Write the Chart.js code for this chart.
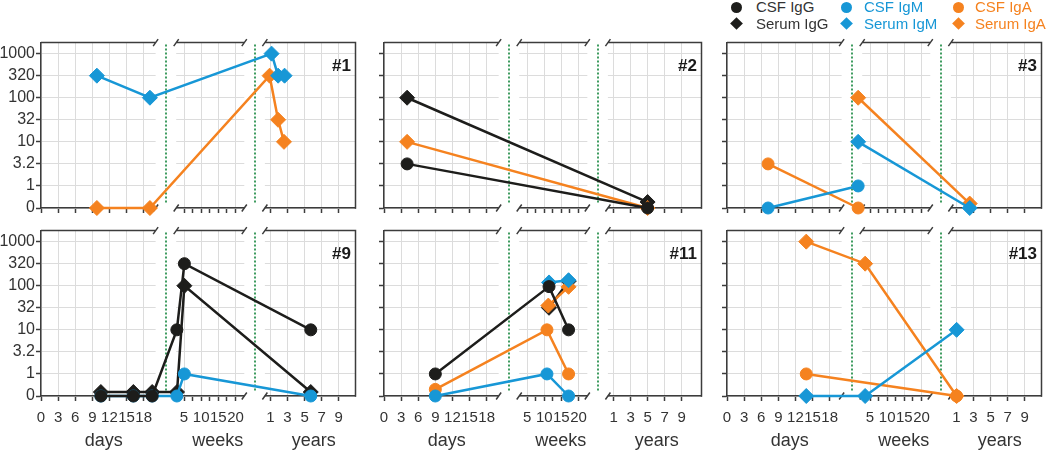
<!DOCTYPE html>
<html>
<head>
<meta charset="utf-8">
<script src="https://cdn.jsdelivr.net/npm/chart.js@4.4.1/dist/chart.umd.min.js"></script>
<style>
  html, body { margin: 0; background: #fff; overflow: hidden; }
  #wrap { position: relative; width: 1050px; height: 451px; font-family: 'Liberation Sans', Arial, Helvetica, sans-serif; }
  #wrap canvas { position: absolute; }
  .lg-text { position: absolute; font-size: 15px; line-height: 18px; white-space: nowrap; }
  .lg-mark { position: absolute; }
</style>
</head>
<body>
<div id="wrap"></div>
<script>
// Data: every point is [part, time, level]
// part: 'd' days, 'w' weeks, 'y' years / level: step on the titre ladder below
const yLabels = ['0', '1', '3.2', '10', '32', '100', '320', '1000']
const dayTicks = [0, 3, 6, 9, 12, 15, 18]
const weekTicks = [5, 7.5, 10, 12.5, 15, 17.5, 20]
const weekLabels = ['5', '', '10', '', '15', '', '20']
const yearTicks = [1, 3, 5, 7, 9]
const partTitles = ['days', 'weeks', 'years']

// #1
const p1SerumIgA = [['d', 9.8, 0], ['d', 19.1, 0], ['y', 0.89, 6], ['y', 1.89, 4], ['y', 2.58, 3]]
const p1SerumIgM = [['d', 9.8, 6], ['d', 19.1, 5], ['y', 1.12, 7], ['y', 1.89, 6], ['y', 2.65, 6]]
// #2
const p2CsfIgG = [['d', 4.05, 2], ['y', 5, 0]]
const p2SerumIgG = [['d', 4.05, 5], ['y', 5, 0.27]]
const p2SerumIgA = [['d', 4.05, 3], ['y', 5, 0]]
// #3
const p3CsfIgA = [['d', 7.2, 2], ['d', 23, 0]]
const p3CsfIgM = [['d', 7.2, 0], ['d', 23, 1]]
const p3SerumIgA = [['d', 23, 5], ['y', 2.55, 0.2]]
const p3SerumIgM = [['d', 23, 3], ['y', 2.55, 0]]
// #9
const p9CsfIgG = [['d', 10.5, 0], ['d', 16.2, 0], ['d', 19.5, 0], ['w', 2.9, 3], ['w', 5.1, 6], ['y', 5.73, 3]]
const p9SerumIgG = [['d', 10.5, 0.18], ['d', 16.2, 0.18], ['d', 19.5, 0.18], ['w', 2.95, 0.18], ['w', 5.1, 5], ['y', 5.73, 0.18]]
const p9CsfIgM = [['d', 10.5, 0], ['d', 16.2, 0], ['d', 19.5, 0], ['w', 2.9, 0], ['w', 5.1, 1], ['y', 5.73, 0]]
// #11
const p11CsfIgG = [['d', 9, 1], ['w', 11.4, 4.96], ['w', 17.1, 3]]
const p11CsfIgA = [['d', 9, 0.3], ['w', 10.8, 3], ['w', 17.1, 1]]
const p11CsfIgM = [['d', 9, 0], ['w', 10.8, 1], ['w', 17.1, 0]]
const p11SerumIgG = [['w', 11.4, 4], ['w', 17.1, 5.2]]
const p11SerumIgM = [['w', 11.4, 5.15], ['w', 17.1, 5.25]]
const p11SerumIgA = [['w', 11.2, 4.1], ['w', 17.1, 4.95]]
// #13
const p13CsfIgA = [['d', 13.9, 1], ['y', 1.01, 0]]
const p13SerumIgA = [['d', 13.9, 7], ['w', 3.57, 6], ['y', 1.01, 0]]
const p13SerumIgM = [['d', 13.9, 0], ['w', 3.57, 0], ['y', 1.01, 3]]

const panelNames = ['#1', '#2', '#3', '#9', '#11', '#13']
const panelSeries = [
  { serumIgA: p1SerumIgA, serumIgM: p1SerumIgM },
  { csfIgG: p2CsfIgG, serumIgG: p2SerumIgG, serumIgA: p2SerumIgA },
  { csfIgA: p3CsfIgA, csfIgM: p3CsfIgM, serumIgA: p3SerumIgA, serumIgM: p3SerumIgM },
  { csfIgG: p9CsfIgG, serumIgG: p9SerumIgG, csfIgM: p9CsfIgM },
  { csfIgG: p11CsfIgG, csfIgA: p11CsfIgA, csfIgM: p11CsfIgM, serumIgG: p11SerumIgG, serumIgM: p11SerumIgM, serumIgA: p11SerumIgA },
  { csfIgA: p13CsfIgA, serumIgA: p13SerumIgA, serumIgM: p13SerumIgM },
]

/*--------------------------------------------
  Styles
---------------------------------------------*/
const BLACK = '#1d1d1b'
const BLUE = '#1797d6'
const ORANGE = '#f5821f'
const TEXT = '#333333'
const FRAME = '#3c3c3c'
const GRID = '#dcdcdc'
const GREEN = '#3f9c60'

// lower order is drawn on top
const seriesStyle = {
  csfIgG: { label: 'CSF IgG', color: BLACK, text: TEXT, shape: 'circle', order: 1, col: 0, row: 0 },
  serumIgG: { label: 'Serum IgG', color: BLACK, text: TEXT, shape: 'rectRot', order: 5, col: 0, row: 1 },
  csfIgM: { label: 'CSF IgM', color: BLUE, text: BLUE, shape: 'circle', order: 4, col: 1, row: 0 },
  serumIgM: { label: 'Serum IgM', color: BLUE, text: BLUE, shape: 'rectRot', order: 2, col: 1, row: 1 },
  csfIgA: { label: 'CSF IgA', color: ORANGE, text: ORANGE, shape: 'circle', order: 6, col: 2, row: 0 },
  serumIgA: { label: 'Serum IgA', color: ORANGE, text: ORANGE, shape: 'rectRot', order: 3, col: 2, row: 1 },
}

// the broken time axis: px from panel left edge for each part
const axisParts = {
  d: { start: 0, end: 117, px: v => 5.82 * v },
  w: { start: 138, end: 207.5, px: v => 128.5 + 3.5 * v },
  y: { start: 228.5, end: null, px: v => 225.6 + 8.68 * v },
}
const titleAt = [axisParts.d.px(11), axisParts.w.px(14.8), axisParts.y.px(6.07)]

const xTicks = [
  ...dayTicks.map(v => ({ pos: axisParts.d.px(v), label: String(v), grid: true })),
  ...weekTicks.map((v, i) => ({ pos: axisParts.w.px(v), label: weekLabels[i], grid: weekLabels[i] !== '' })),
  ...yearTicks.map(v => ({ pos: axisParts.y.px(v), label: String(v), grid: true })),
]

const panelLeft = [41, 384, 727]
const panelWidth = [321, 324, 321]
const rowBottom = [208, 396]
const PLOT_H = 166
const Y_MAX = 7.5
const Y_AXIS_W = 41
const PAD_TOP = 10

Chart.defaults.font.family = "'Liberation Sans', Arial, Helvetica, sans-serif"
Chart.defaults.color = TEXT

/*--------------------------------------------
  Plugin: gaps, frame, break marks, labels
---------------------------------------------*/
const brokenAxis = {
  id: 'brokenAxis',
  beforeDatasetsDraw(chart) {
    const { ctx, chartArea: { top, bottom, right }, scales: { x } } = chart
    const px = v => x.getPixelForValue(v)
    const parts = [[axisParts.d.start, axisParts.d.end], [axisParts.w.start, axisParts.w.end], [axisParts.y.start, x.max]]
    ctx.save()

    // white out the gaps
    ctx.fillStyle = '#fff'
    for (let k = 0; k < 2; k++) {
      const a = px(parts[k][1])
      const b = px(parts[k + 1][0])
      ctx.fillRect(a, top - 4, b - a, bottom - top + 5.5)
    }

    // top line, right side and break marks
    ctx.strokeStyle = FRAME
    ctx.lineWidth = 1.5
    ctx.beginPath()
    parts.forEach(([s, e], k) => {
      ctx.moveTo(px(s), top)
      ctx.lineTo(px(e), top)
      const ends = []
      if (k > 0) ends.push(px(s))
      if (k < 2) ends.push(px(e))
      ends.forEach(ex => {
        ;[top, bottom].forEach(ey => {
          ctx.moveTo(ex - 2.5, ey + 3.5)
          ctx.lineTo(ex + 2.5, ey - 3.5)
        })
      })
    })
    ctx.moveTo(right, top - 0.75)
    ctx.lineTo(right, bottom + 0.75)
    ctx.stroke()

    // dotted green dividers
    ctx.strokeStyle = GREEN
    ctx.lineWidth = 2
    ctx.setLineDash([2, 2])
    ctx.beginPath()
    for (let k = 0; k < 2; k++) {
      const gx = Math.round((px(parts[k][1]) + px(parts[k + 1][0])) / 2)
      ctx.moveTo(gx, top + 2)
      ctx.lineTo(gx, bottom - 4)
    }
    ctx.stroke()
    ctx.restore()
  },
  afterDraw(chart, args, opts) {
    const { ctx, chartArea: { top, bottom, right }, scales: { x } } = chart
    ctx.save()
    ctx.fillStyle = '#1a1a1a'
    ctx.font = "bold 17px 'Liberation Sans', Arial, sans-serif"
    ctx.textAlign = 'right'
    ctx.textBaseline = 'alphabetic'
    ctx.fillText(opts.name, right - 4.5, top + 28)

    if (opts.row === 1) {
      ctx.fillStyle = TEXT
      ctx.font = "18px 'Liberation Sans', Arial, sans-serif"
      ctx.textAlign = 'center'
      partTitles.forEach((t, k) => ctx.fillText(t, x.getPixelForValue(titleAt[k]), bottom + 49.5))
    }
    ctx.restore()
  },
}

/*--------------------------------------------
  Panels
---------------------------------------------*/
const wrap = document.querySelector('#wrap')

panelNames.forEach((name, i) => {
  const col = i % 3
  const row = Math.floor(i / 3)
  const W = panelWidth[col]
  const xAxisH = row ? 55 : 12

  const canvas = document.createElement('canvas')
  const cw = Y_AXIS_W + W + 2
  const ch = PAD_TOP + PLOT_H + xAxisH
  canvas.width = cw
  canvas.height = ch
  canvas.style.width = cw + 'px'
  canvas.style.height = ch + 'px'
  canvas.style.left = panelLeft[col] - Y_AXIS_W + 'px'
  canvas.style.top = rowBottom[row] - PLOT_H - PAD_TOP + 'px'
  wrap.appendChild(canvas)

  const datasets = Object.entries(panelSeries[i]).map(([key, pts]) => {
    const s = seriesStyle[key]
    return {
      label: s.label,
      data: pts.map(([part, t, level]) => ({ x: axisParts[part].px(t), y: level })),
      borderColor: s.color,
      backgroundColor: s.color,
      pointStyle: s.shape,
      pointRadius: s.shape === 'circle' ? 6 : 7.5,
      pointBorderWidth: 1,
      borderWidth: 2.5,
      tension: 0,
      order: s.order,
      clip: false,
    }
  })

  new Chart(canvas, {
    type: 'line',
    data: { datasets },
    options: {
      responsive: false,
      animation: false,
      events: [],
      layout: { padding: { top: PAD_TOP, right: 2, left: 0, bottom: 0 } },
      scales: {
        x: {
          type: 'linear',
          min: 0,
          max: W,
          afterBuildTicks: (sc) => {
            sc.ticks = xTicks.map(t => ({ value: t.pos }))
          },
          afterFit: (sc) => {
            sc.height = xAxisH
          },
          ticks: {
            autoSkip: false,
            maxRotation: 0,
            minRotation: 0,
            padding: 8,
            color: TEXT,
            font: { size: 15 },
            callback: (v, idx) => (row ? xTicks[idx].label : ''),
          },
          grid: {
            color: c => (xTicks[c.index] && xTicks[c.index].grid ? GRID : 'rgba(0,0,0,0)'),
            tickColor: FRAME,
            tickLength: 5,
            tickWidth: 1.5,
          },
          border: { color: FRAME, width: 1.5 },
        },
        y: {
          type: 'linear',
          min: 0,
          max: Y_MAX,
          afterBuildTicks: (sc) => {
            sc.ticks = yLabels.map((l, j) => ({ value: j }))
          },
          afterFit: (sc) => {
            sc.width = Y_AXIS_W
          },
          ticks: {
            padding: 1,
            color: TEXT,
            font: { size: 16 },
            callback: (v, idx) => (col ? '' : yLabels[idx]),
          },
          grid: { color: GRID, tickColor: FRAME, tickLength: 5, tickWidth: 1.5 },
          border: { color: FRAME, width: 1.5 },
        },
      },
      plugins: {
        legend: { display: false },
        tooltip: { enabled: false },
        brokenAxis: { name, row },
      },
    },
    plugins: [brokenAxis],
  })
})

/*--------------------------------------------
  Legend
---------------------------------------------*/
const legendMarkX = [736.7, 846.7, 958.3]
const legendTextX = [756, 864, 975]
const legendRowY = [7, 23.5]

Object.values(seriesStyle).forEach((s) => {
  const cx = legendMarkX[s.col]
  const cy = legendRowY[s.row]
  const mark = document.createElement('div')
  mark.className = 'lg-mark'
  mark.style.background = s.color
  if (s.shape === 'circle') {
    mark.style.width = mark.style.height = '11px'
    mark.style.borderRadius = '50%'
    mark.style.left = cx - 5.5 + 'px'
    mark.style.top = cy - 5.5 + 'px'
  } else {
    mark.style.width = mark.style.height = '9px'
    mark.style.transform = 'rotate(45deg)'
    mark.style.left = cx - 4.5 + 'px'
    mark.style.top = cy - 4.5 + 'px'
  }
  wrap.appendChild(mark)

  const text = document.createElement('div')
  text.className = 'lg-text'
  text.textContent = s.label
  text.style.color = s.text
  text.style.left = legendTextX[s.col] + 'px'
  text.style.top = cy - 9 + 'px'
  wrap.appendChild(text)
})
</script>
</body>
</html>
